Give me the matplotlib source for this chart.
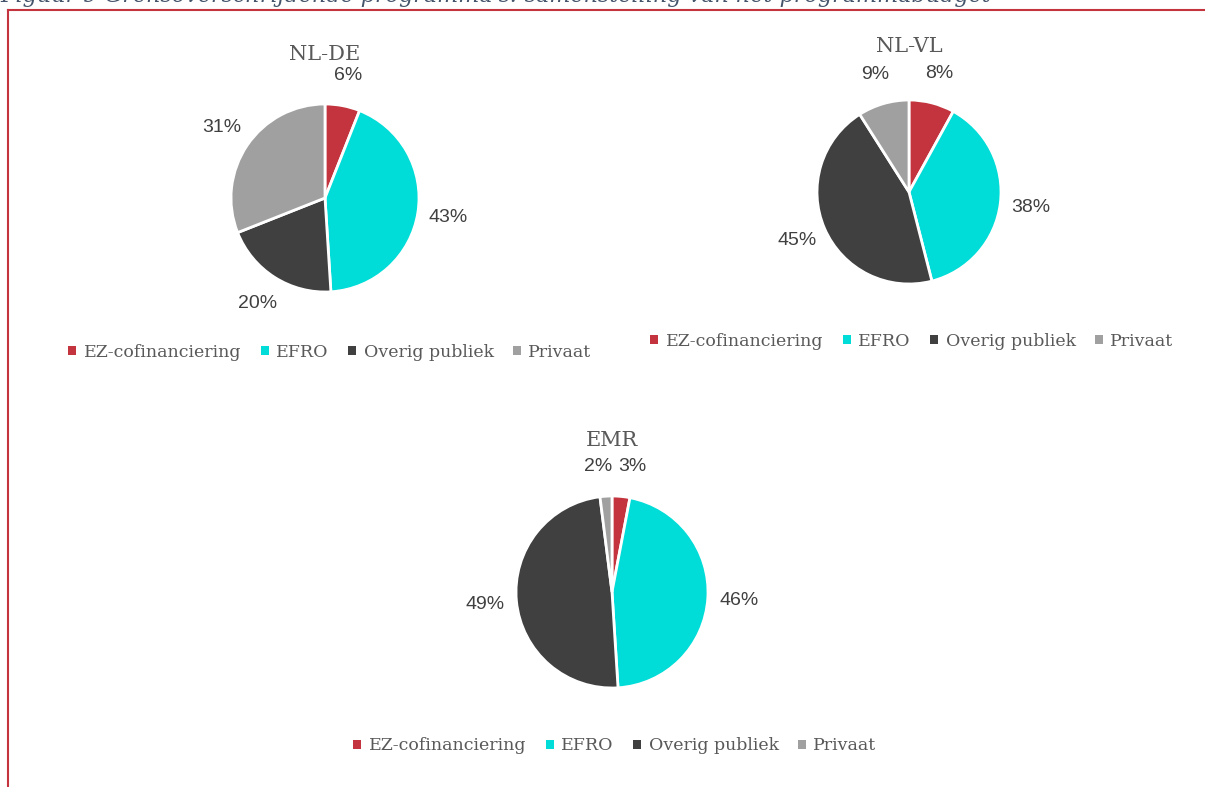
import matplotlib
matplotlib.use("Agg")
import matplotlib.pyplot as plt
from matplotlib.patches import Patch
from matplotlib.lines import Line2D

#--------------------------------------#
#data#

categories = ["EZ-cofinanciering", "EFRO", "Overig publiek", "Privaat"]
colors = ["#C3343E", "#00DCD7", "#404040", "#A0A0A0"]

nl_de = [6, 43, 20, 31]
nl_vl = [8, 38, 45, 9]
emr = [3, 46, 49, 2]

titles = ["NL-DE", "NL-VL", "EMR"]

#--------------------------------------#
#layout (pixels)#

W, H = 1205, 787
red = "#C3343E"
label_color = "#404040"
serif = "DejaVu Serif"
sans = "Liberation Sans"


def px_to_fig(x, y):
    return x / W, 1 - y / H


def draw_pie(fig, values, title, cx, cy, r, title_y, legend_x, legend_y, small_split=False):
    size = 320
    left, bottom = px_to_fig(cx - size / 2, cy + size / 2)
    ax = fig.add_axes([left, bottom, size / W, size / H])

    labels = ["%d%%" % v for v in values]
    wedges, texts = ax.pie(values, colors=colors, labels=labels, startangle=90,
                           counterclock=False, radius=r / 100, labeldistance=1.33,
                           wedgeprops=dict(edgecolor="white", linewidth=2))
    # pie() resets the limits, so set them afterwards: 100 px per unit
    ax.set_xlim(-1.6, 1.6)
    ax.set_ylim(-1.6, 1.6)
    ax.set_aspect("equal")
    ax.axis("off")

    for t, v in zip(texts, values):
        t.set_fontfamily(sans)
        t.set_fontsize(14)
        t.set_color(label_color)
        t.set_horizontalalignment("center")
        t.set_verticalalignment("center")
    if small_split:
        # the two tiny slices sit next to each other at the top
        x0, y0 = texts[0].get_position()
        texts[0].set_position((0.06, y0 - 0.02))
        texts[0].set_horizontalalignment("left")
        x3, y3 = texts[-1].get_position()
        texts[-1].set_position((0.0, y3 - 0.02))
        texts[-1].set_horizontalalignment("right")

    tx, ty = px_to_fig(cx, title_y)
    fig.text(tx, ty, title, ha="center", va="center", fontsize=15,
             family=serif, color="#595959")

    handles = [Patch(facecolor=c, edgecolor="none") for c in colors]
    lx, ly = px_to_fig(legend_x, legend_y)
    fig.legend(handles, categories, loc="center", bbox_to_anchor=(lx, ly),
               ncol=4, frameon=False, handlelength=0.45, handleheight=0.45,
               handletextpad=0.45, columnspacing=1.1,
               prop=dict(family=serif, size=12.5), labelcolor="#595959")


def main():
    fig = plt.figure(figsize=(W / 100, H / 100), dpi=100)

    # cut-off caption at the top
    fig.text(0.0, 1 - 2 / H,
             "Figuur 9 Grensoverschrijdende programma's: samenstelling van het programmabudget",
             ha="left", va="baseline", fontsize=16, family=serif, style="italic",
             color="#44546A")

    # red frame
    x0, y0 = px_to_fig(8, 10)
    fig.add_artist(Line2D([x0, 1.0], [y0, y0], color=red, lw=1.5))
    fig.add_artist(Line2D([x0, x0], [y0, 0.0], color=red, lw=1.5))

    draw_pie(fig, nl_de, titles[0], 325, 198, 94, 55, 330, 352)
    draw_pie(fig, nl_vl, titles[1], 909, 192, 92, 46, 912, 341)
    draw_pie(fig, emr, titles[2], 612, 592, 96, 440, 615, 746, small_split=True)

    fig.savefig("out.png", dpi=100)


if __name__ == "__main__":
    main()
